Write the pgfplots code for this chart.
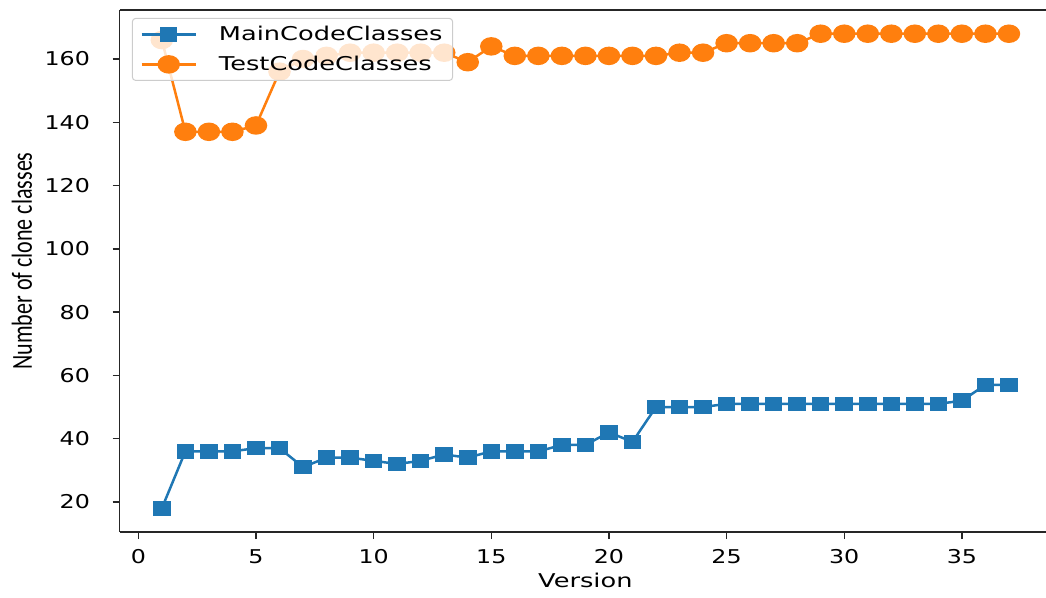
\documentclass[border=0pt]{standalone}
\usepackage{pgfplots}
\pgfplotsset{compat=1.18}
\usepackage{fontspec}
\setmainfont{DejaVu Sans}[FakeStretch=1.25]
\newfontfamily\legfont{DejaVu Sans}[FakeStretch=1.35]
\newfontfamily\ylabfont{Carlito}[FakeStretch=0.76]

\definecolor{mplblue}{HTML}{1F77B4}
\definecolor{mplorange}{HTML}{FF7F0E}

\begin{document}
\begin{tikzpicture}[font=\fontsize{19}{22}\selectfont]
\begin{axis}[
  set layers,
  scale only axis,
  width=931.8pt, height=522pt,
  at={(119.5pt,65pt)}, anchor=south west,
  xmin=-0.8, xmax=38.8, ymin=10.5, ymax=175.5,
  xtick={0,5,...,35}, ytick={20,40,...,160},
  axis x line*=bottom, axis y line*=left,
  tick align=outside, major tick length=7pt,
  tick style={line width=1.3pt, black!85},
  axis line style={line width=1.3pt, black!85, -},
  extra description/.code={
    \draw[line width=1.3pt, black!85] (rel axis cs:0,1) -- (rel axis cs:1,1);
  },
  /pgf/number format/assume math mode=true,
  xticklabel style={yshift=-7pt},
  yticklabel style={xshift=-19pt},
  xlabel={\legfont Version},
  xlabel style={at={([yshift=-48pt]rel axis cs:0.5,0)}, anchor=center},
  ylabel={\ylabfont\fontsize{29}{32}\selectfont Number of clone classes},
  ylabel style={at={([xshift=-97.5pt,yshift=10pt]rel axis cs:0,0.5)}, anchor=center},
  legend cell align=left,
  legend style={
    at={(rel axis cs:0.0134,0.9847)}, anchor=north west,
    draw=black!20, line width=1pt, rounded corners=3pt,
    fill=white, fill opacity=0.8, text opacity=1, draw opacity=1,
    font=\legfont\fontsize{19}{22}\selectfont,
    inner xsep=8pt, inner ysep=6pt,
    row sep=10pt, column sep=20pt,
  },
  legend image code/.code={
    \draw[mark repeat=2, mark phase=2, fill opacity=1, draw opacity=1]
      plot coordinates {(0pt,0pt) (27pt,0pt) (54pt,0pt)};
  },
]
% main code clone classes per version
\addplot[color=mplblue, line width=2.5pt, mark=square*, mark size=6pt,
  mark options={xscale=1.25, solid}]
coordinates {
 (1,18) (2,36) (3,36) (4,36) (5,37) (6,37) (7,31) (8,34) (9,34) (10,33)
 (11,32) (12,33) (13,35) (14,34) (15,36) (16,36) (17,36) (18,38) (19,38) (20,42)
 (21,39) (22,50) (23,50) (24,50) (25,51) (26,51) (27,51) (28,51) (29,51) (30,51)
 (31,51) (32,51) (33,51) (34,51) (35,52) (36,57) (37,57)
};
\addlegendentry{MainCodeClasses}
% test code clone classes per version
\addplot[color=mplorange, line width=2.5pt, mark=*, mark size=8pt,
  mark options={xscale=1.25, solid}]
coordinates {
 (1,166) (2,137) (3,137) (4,137) (5,139) (6,156) (7,160) (8,161) (9,162) (10,162)
 (11,162) (12,162) (13,162) (14,159) (15,164) (16,161) (17,161) (18,161) (19,161) (20,161)
 (21,161) (22,161) (23,162) (24,162) (25,165) (26,165) (27,165) (28,165) (29,168) (30,168)
 (31,168) (32,168) (33,168) (34,168) (35,168) (36,168) (37,168)
};
\addlegendentry{TestCodeClasses}
\end{axis}
\pgfresetboundingbox
\useasboundingbox (0pt,0pt) rectangle (1046pt,597pt);
\end{tikzpicture}
\end{document}
